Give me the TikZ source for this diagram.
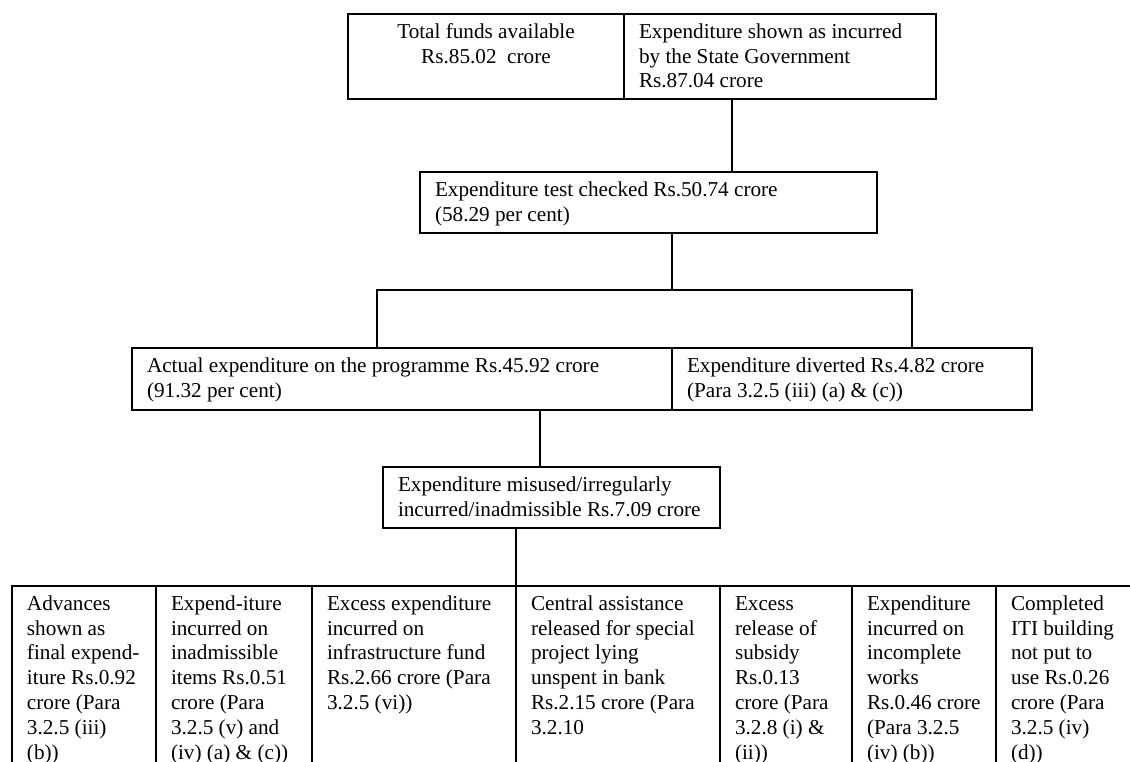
\documentclass[tikz,border=0pt]{standalone}
\usepackage{fontspec}
\setmainfont{Liberation Serif}
\newcommand\bodyfont{\fontsize{21.2}{24.8}\selectfont}
% left aligned cell: width, height, lines
\newcommand\lcell[3]{\parbox[c][#2][t]{#1}{\begin{tabular}[t]{@{}l@{}}#3\end{tabular}}}
% centred cell
\newcommand\ccell[3]{\parbox[c][#2][t]{#1}{\centering\begin{tabular}[t]{@{}c@{}}#3\end{tabular}}}
\tikzset{
  box/.style={draw, line width=2pt, inner xsep=15pt, inner ysep=7pt, outer sep=0pt,
              anchor=north west, font=\bodyfont},
  link/.style={line width=2pt},
}
\begin{document}
\begin{tikzpicture}[x=1pt,y=-1pt]
\useasboundingbox (0,0) rectangle (1130,762);
\clip (0,0) rectangle (1130,762);

% top level
\node[box] (fund) at (348,14) {\ccell{246pt}{71pt}{Total funds available\\Rs.85.02~~crore}};
\node[box] (shown) at (624,14) {\lcell{282pt}{71pt}{Expenditure shown as incurred\\by the State Government\\Rs.87.04 crore}};

% test checked
\node[box] (test) at (420,172) {\lcell{427pt}{47pt}{Expenditure test checked Rs.50.74 crore\\(58.29 per cent)}};

% actual / diverted
\node[box] (actual) at (132,348) {\lcell{510pt}{48pt}{Actual expenditure on the programme Rs.45.92 crore\\(91.32 per cent)}};
\node[box] (divert) at (672,348) {\lcell{330pt}{48pt}{Expenditure diverted Rs.4.82 crore\\(Para 3.2.5 (iii) (a) \& (c))}};

% misused
\node[box] (misuse) at (383,467) {\lcell{307pt}{47pt}{Expenditure misused/irregularly\\incurred/inadmissible Rs.7.09 crore}};

% bottom row
\node[box] (c1) at (12,586)  {\lcell{114pt}{200pt}{Advances\\shown as\\final expend-\\iture Rs.0.92\\crore (Para\\3.2.5 (iii)\\(b))}};
\node[box] (c2) at (156,586) {\lcell{126pt}{200pt}{Expend-iture\\incurred on\\inadmissible\\items Rs.0.51\\crore (Para\\3.2.5 (v) and\\(iv) (a) \& (c))}};
\node[box] (c3) at (312,586) {\lcell{174pt}{200pt}{Excess expenditure\\incurred on\\infrastructure fund\\Rs.2.66 crore (Para\\3.2.5 (vi))}};
\node[box] (c4) at (516,586) {\lcell{174pt}{200pt}{Central assistance\\released for special\\project lying\\unspent in bank\\Rs.2.15 crore (Para\\3.2.10}};
\node[box] (c5) at (720,586) {\lcell{102pt}{200pt}{Excess\\release of\\subsidy\\Rs.0.13\\crore (Para\\3.2.8 (i) \&\\(ii))}};
\node[box] (c6) at (852,586) {\lcell{114pt}{200pt}{Expenditure\\incurred on\\incomplete\\works\\Rs.0.46 crore\\(Para 3.2.5\\(iv) (b))}};
\node[box] (c7) at (996,586) {\lcell{120pt}{200pt}{Completed\\ITI building\\not put to\\use Rs.0.26\\crore (Para\\3.2.5 (iv)\\(d))}};

% connectors
\draw[link] ([xshift=108pt]shown.south west) -- ([xshift=108pt]shown.south west |- test.north);
\coordinate (j) at ([xshift=252pt,yshift=-57pt]test.south west);
\draw[link] ([xshift=252pt]test.south west) -- (j);
\draw[link] ([xshift=245pt]actual.north west) |- (j) -| ([xshift=240pt]divert.north west);
\draw[link] ([xshift=408pt]actual.south west) -- ([xshift=408pt]actual.south west |- misuse.north);
\draw[link] ([xshift=133pt]misuse.south west) -- (c4.north west);
\end{tikzpicture}
\end{document}
